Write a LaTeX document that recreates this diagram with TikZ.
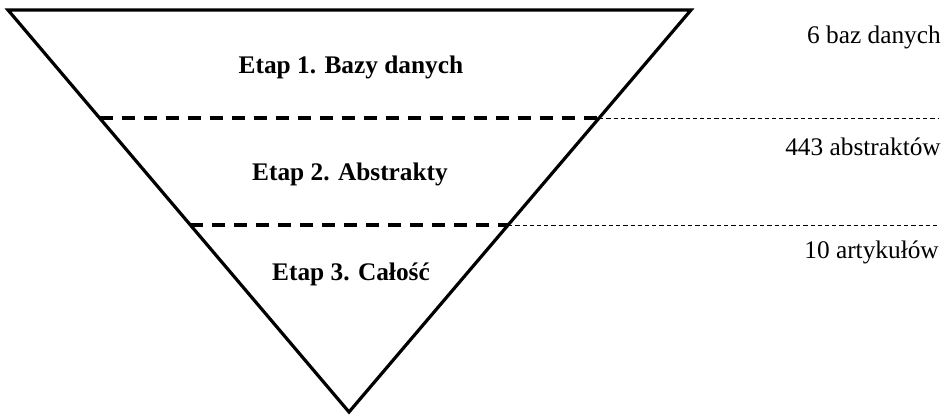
\documentclass[tikz,border=0pt]{standalone}
\usepackage{fontspec}
\setmainfont{Liberation Serif}
\usetikzlibrary{calc}
\begin{document}
\begin{tikzpicture}[x=0.75pt,y=-0.75pt,
  funnel/.style={line width=2.4pt,line join=miter},
  stagecut/.style={line width=2.7pt,dash pattern=on 9.75pt off 6.75pt},
  guide/.style={line width=0.7pt,dash pattern=on 3.2pt off 2.2pt},
  stagelabel/.style={font=\fontsize{19}{22}\selectfont\bfseries,anchor=center,inner sep=0pt},
  countlabel/.style={font=\fontsize{19}{22}\selectfont,anchor=east,inner sep=0pt}]
  \useasboundingbox (0,0) rectangle (945,419);
  % funnel corners
  \coordinate (TL) at (8,10);
  \coordinate (TR) at (691,10);
  \coordinate (A) at (349,412);
  % stage boundaries on the funnel sides
  \coordinate (L1) at ($(TL)!0.2687!(A)$);
  \coordinate (R1) at ($(TR)!0.2687!(A)$);
  \coordinate (L2) at ($(TL)!0.5348!(A)$);
  \coordinate (R2) at ($(TR)!0.5348!(A)$);
  % right ends of the guide lines
  \coordinate (E1) at ($(R1)+(339,0)$);
  \coordinate (E2) at ($(R2)+(430,0)$);
  % stage separators and guide lines
  \draw[guide] (R1) -- (E1);
  \draw[guide] (R2) -- (E2);
  \draw[stagecut] (L1) -- (R1);
  \draw[stagecut] (L2) -- (R2);
  \draw[funnel] (TL) -- (TR) -- (A) -- cycle;
  % stage names
  \node[stagelabel] (s1) at (351,67) {Etap 1. Bazy danych};
  \node[stagelabel] (s2) at (350,174) {Etap 2. Abstrakty};
  \node[stagelabel] (s3) at (351,274) {Etap 3. Całość};
  % counts
  \node[countlabel] (c1) at (941,37) {6 baz danych};
  \node[countlabel] (c2) at (941,147) {443 abstraktów};
  \node[countlabel] (c3) at (939,252) {10 artykułów};
\end{tikzpicture}
\end{document}
